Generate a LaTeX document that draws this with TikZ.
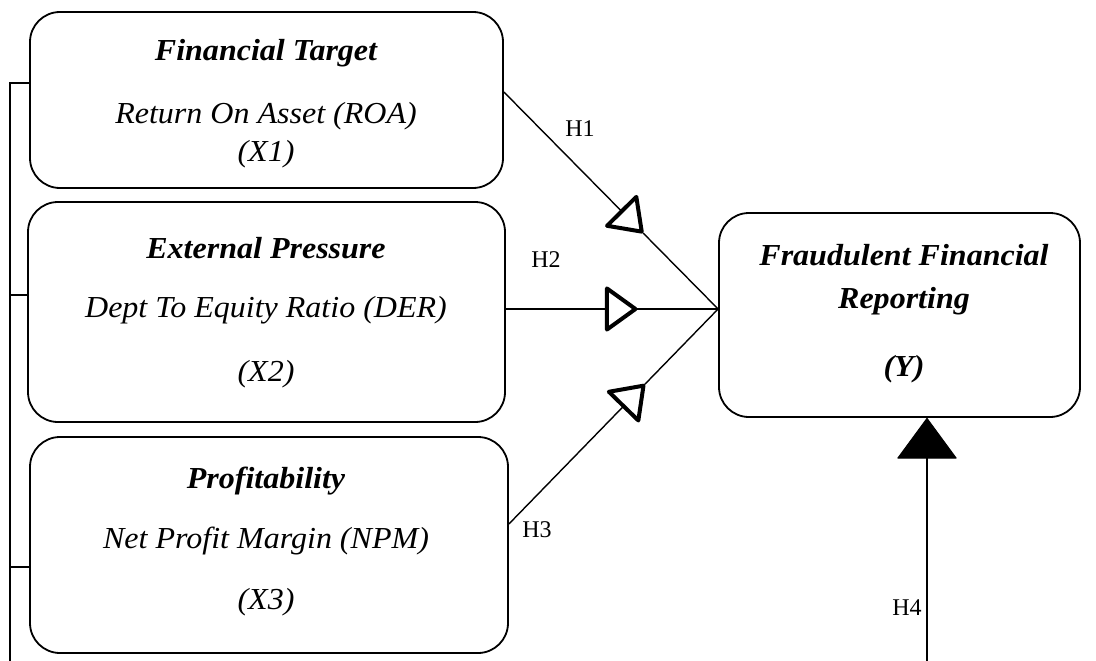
\documentclass[tikz,border=0pt]{standalone}
\usepackage{fontspec}
\setmainfont{Liberation Serif}
\usetikzlibrary{arrows.meta,calc}
\begin{document}
\begin{tikzpicture}[x=1pt,y=-1pt,
  box/.style={draw,line width=1.8pt,rounded corners=30pt,minimum width=#1,inner sep=0pt},
  ttl/.style={font=\fontsize{30.5}{34}\selectfont\bfseries\itshape,inner sep=0pt,anchor=base,xscale=1.05},
  bod/.style={font=\fontsize{30.5}{34}\selectfont\itshape,inner sep=0pt,anchor=base,xscale=1.05},
  hlab/.style={font=\fontsize{24}{28}\selectfont,inner sep=0pt,anchor=base},
  conn/.style={line width=1.4pt},
  openarrow/.style={conn,-{Triangle[open,length=34pt,width=48pt,line width=4pt,round]}},
  fullarrow/.style={conn,-{Triangle[length=41pt,width=60pt,round,line width=1pt]}}]
\useasboundingbox (0,0) rectangle (1096,661);
% boxes
\node[box=473pt,minimum height=176pt] (b1) at (266.5,100) {};
\node[box=477pt,minimum height=220pt] (b2) at (266.5,312) {};
\node[box=478pt,minimum height=216pt] (b3) at (269,545) {};
\node[box=361pt,minimum height=204pt] (y) at (899.5,315) {};
% texts
\node[ttl] (t1) at (266,61) {Financial Target};
\node[bod] (r1) at (266,123) {Return On Asset (ROA)};
\node[bod] (x1) at (266,161) {(X1)};
\node[ttl] (t2) at (266,258) {External Pressure};
\node[bod] (r2) at (266,317) {Dept To Equity Ratio (DER)};
\node[bod] (x2) at (266,381) {(X2)};
\node[ttl] (t3) at (266,488) {Profitability};
\node[bod] (r3) at (266,548) {Net Profit Margin (NPM)};
\node[bod] (x3) at (266,609) {(X3)};
\node[ttl] (ty1) at (904,265) {Fraudulent Financial};
\node[ttl] (ty2) at (904,308) {Reporting};
\node[ttl] (ty3) at (904,376) {(Y)};
% hypothesis labels
\node[hlab] (h1) at (580,136) {H1};
\node[hlab] (h2) at (546,267) {H2};
\node[hlab] (h3) at (537,537) {H3};
\node[hlab] (h4) at (907,615) {H4};
% connectors
\coordinate (yin) at ([yshift=6pt]y.west);
\coordinate (s1) at ([yshift=8pt]b1.east);
\coordinate (s2) at ([yshift=3pt]b2.east);
\coordinate (s3) at ([yshift=21pt]b3.east);
\coordinate (m1) at ($(s1)!0.65!(yin)$);
\coordinate (m2) at ($(s2)!0.62!(yin)$);
\coordinate (m3) at ($(s3)!0.65!(yin)$);
\draw[openarrow] (s1) -- (m1);
\draw[conn] (m1) -- (yin);
\draw[openarrow] (s2) -- (m2);
\draw[conn] (m2) -- (yin);
\draw[openarrow] (s3) -- (m3);
\draw[conn] (m3) -- (yin);
% H4
\coordinate (h4s) at (927,661);
\draw[fullarrow] (h4s) -- (h4s |- y.south);
% left bracket
\coordinate (lb) at (10,661);
\draw[conn] (lb) |- (b1.west |- 0,83);
\draw[conn] (10,295) -- (b2.west |- 0,295);
\draw[conn] (10,567) -- (b3.west |- 0,567);
\end{tikzpicture}
\end{document}
